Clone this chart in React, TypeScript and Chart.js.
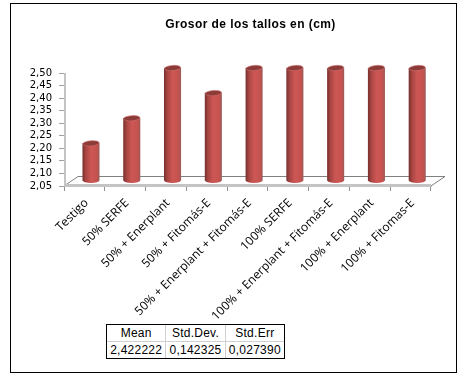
import React, { useEffect, useRef } from "react";
import { Chart, registerables } from "chart.js";

Chart.register(...registerables);

const categories = [
  "Testigo",
  "50% SERFE",
  "50% + Enerplant",
  "50% + Fitomás-E",
  "50% + Enerplant + Fitomás-E",
  "100% SERFE",
  "100% + Enerplant + Fitomás-E",
  "100% + Enerplant",
  "100% + Fitomas-E",
];
const values = [2.2, 2.3, 2.5, 2.4, 2.5, 2.5, 2.5, 2.5, 2.5];
const chartTitle = "Grosor de los tallos en (cm)";
const statHeaders = ["Mean", "Std.Dev.", "Std.Err"];
const statValues = ["2,422222", "0,142325", "0,027390"];

const DX = 6.6;
const DY = -5;
const FLOOR_DX = 14;
const FLOOR_DY = -9.5;

function bodyGradient(ctx: CanvasRenderingContext2D, x0: number, x1: number) {
  const g = ctx.createLinearGradient(x0, 0, x1, 0);
  g.addColorStop(0, "#7a3230");
  g.addColorStop(0.18, "#a84542");
  g.addColorStop(0.5, "#cd5754");
  g.addColorStop(0.85, "#c6524f");
  g.addColorStop(1, "#a05a58");
  return g;
}

const scene = {
  id: "scene",
  beforeDatasetsDraw(chart: any) {
    const { ctx, chartArea: a } = chart;
    ctx.save();
    // floor
    ctx.strokeStyle = "#808080";
    ctx.lineWidth = 1;
    ctx.beginPath();
    ctx.moveTo(a.left, a.bottom);
    ctx.lineTo(a.left + FLOOR_DX, a.bottom + FLOOR_DY);
    ctx.lineTo(a.right + FLOOR_DX, a.bottom + FLOOR_DY);
    ctx.lineTo(a.right, a.bottom);
    ctx.stroke();
    // thick front edge and side wall
    ctx.strokeStyle = "#c4c4c4";
    ctx.lineWidth = 2;
    ctx.beginPath();
    ctx.moveTo(a.left, a.bottom - 1);
    ctx.lineTo(a.right, a.bottom - 1);
    ctx.moveTo(a.left + 1, a.top);
    ctx.lineTo(a.left + 1, a.bottom);
    ctx.stroke();
    ctx.restore();
    ctx.save();
    ctx.translate(DX, DY);
    // bottom ends
    chart.getDatasetMeta(0).data.forEach((b: any) => {
      const w = b.width;
      ctx.fillStyle = bodyGradient(ctx, b.x - w / 2, b.x + w / 2);
      ctx.beginPath();
      ctx.ellipse(b.x, b.base, w / 2, 2.6, 0, 0, Math.PI * 2);
      ctx.fill();
    });
  },
  afterDatasetsDraw(chart: any) {
    const { ctx } = chart;
    chart.getDatasetMeta(0).data.forEach((b: any) => {
      const w = b.width;
      ctx.fillStyle = "#8c3b39";
      ctx.strokeStyle = "#c9706d";
      ctx.lineWidth = 0.6;
      ctx.beginPath();
      ctx.ellipse(b.x, b.y, w / 2, 2.6, -0.08, 0, Math.PI * 2);
      ctx.fill();
      ctx.stroke();
    });
    ctx.restore();
  },
  afterDraw(chart: any) {
    const { ctx } = chart;
    ctx.save();
    ctx.fillStyle = "#000000";
    ctx.font = "bold 12px 'Liberation Sans'";
    ctx.textAlign = "center";
    ctx.textBaseline = "middle";
    (ctx as any).letterSpacing = "0.42px";
    ctx.fillText(chartTitle, 250.5, 24.5);
    ctx.restore();
  },
};

const cell: React.CSSProperties = {
  border: "1px solid #d0d0d0",
  padding: 0,
  textAlign: "center",
  height: 16,
  font: "12px 'Liberation Sans'",
  letterSpacing: "0.25px",
  color: "#000",
};

export default function App() {
  const ref = useRef<HTMLCanvasElement>(null);
  useEffect(() => {
    const chart = new Chart(ref.current!, {
      type: "bar",
      data: {
        labels: categories,
        datasets: [
          {
            data: values,
            base: 2.05,
            backgroundColor: (c: any) => {
              const x = c.chart.scales.x?.getPixelForValue(c.dataIndex);
              if (typeof c.dataIndex !== "number" || !Number.isFinite(x)) return "#c6524f";
              return bodyGradient(c.chart.ctx, x - 8.2, x + 8.2);
            },
            barThickness: 16.4,
          } as any,
        ],
      },
      plugins: [scene as any],
      options: {
        animation: false,
        responsive: false,
        layout: { padding: { top: 73, left: 0, right: 36, bottom: 0 } },
        plugins: { legend: { display: false }, tooltip: { enabled: false }, title: { display: false } },
        scales: {
          x: {
            offset: true,
            afterFit: (s: any) => {
              s.height = 193;
            },
            border: { color: "#c4c4c4", width: 1 },
            grid: { display: true, drawOnChartArea: false, drawTicks: true, tickLength: 5, color: "#909090", offset: true },
            ticks: {
              autoSkip: false,
              minRotation: 45,
              maxRotation: 45,
              padding: 5,
              labelOffset: 2,
              color: "#000000",
              font: { family: "'Open Sans'", size: 12 },
            },
          },
          y: {
            min: 2.05,
            max: 2.5,
            afterFit: (s: any) => {
              s.width = 64;
            },
            border: { color: "#c4c4c4", width: 1 },
            grid: { display: true, drawOnChartArea: false, drawTicks: true, tickLength: 5, color: "#a0a0a0" },
            ticks: {
              autoSkip: false,
              stepSize: 0.05,
              padding: 7,
              color: "#000000",
              font: { family: "'DejaVu Sans'", size: 10 },
              callback: (v: any) => Number(v).toFixed(2).replace(".", ","),
            },
          },
        },
      },
    });
    return () => chart.destroy();
  }, []);

  return (
    <div style={{ position: "absolute", left: 0, top: 0, width: 467, height: 379, background: "#fff" }}>
      <canvas ref={ref} width={467} height={379} style={{ position: "absolute", left: 0, top: 0, display: "block" }} />
      <div
        style={{
          position: "absolute",
          left: 10,
          top: 3,
          width: 447,
          height: 370,
          boxSizing: "border-box",
          border: "1px solid #000",
          pointerEvents: "none",
        }}
      />
      <table
        style={{
          position: "absolute",
          left: 106,
          top: 324,
          width: 179,
          height: 35,
          borderCollapse: "collapse",
          outline: "1px solid #000",
          outlineOffset: -1,
          tableLayout: "fixed",
          background: "#fff",
        }}
      >
        <tbody>
          <tr>
            {statHeaders.map((h) => (
              <td key={h} style={cell}>
                {h}
              </td>
            ))}
          </tr>
          <tr>
            {statValues.map((v) => (
              <td key={v} style={cell}>
                {v}
              </td>
            ))}
          </tr>
        </tbody>
      </table>
    </div>
  );
}
